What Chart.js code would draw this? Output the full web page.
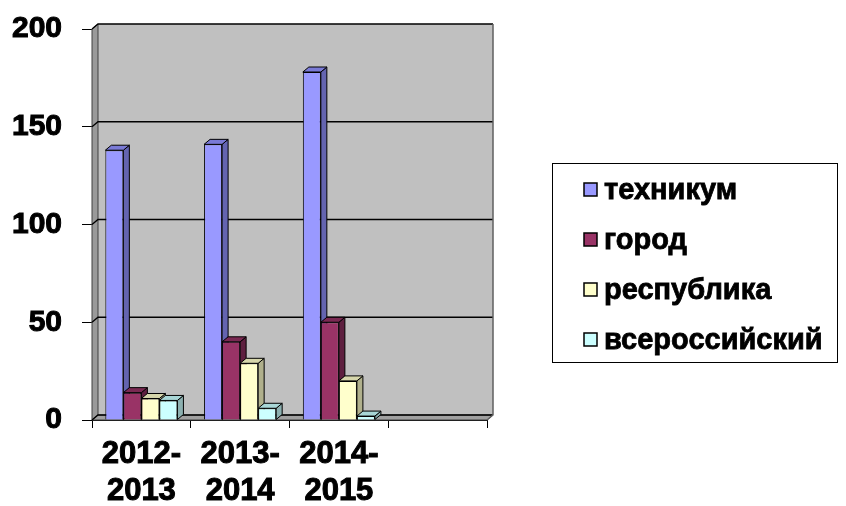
<!DOCTYPE html>
<html>
<head>
<meta charset="utf-8">
<script src="https://cdn.jsdelivr.net/npm/chart.js@4/dist/chart.umd.min.js"></script>
<style>
  html, body { margin: 0; padding: 0; background: #ffffff; }
  #wrap { position: relative; width: 846px; height: 506px; }
</style>
</head>
<body>
<div id="wrap"><canvas id="c" width="846" height="506"></canvas></div>
<script>
// ---- data ----
const categories = [['2012-', '2013'], ['2013-', '2014'], ['2014-', '2015'], ''];
const seriesNames = ['техникум', 'город', 'республика', 'всероссийский'];
const tehnikum = [138, 141, 178, null];
const gorod = [14, 40, 50, null];
const respublika = [11, 29, 20, null];
const vserossiyskiy = [10, 6, 2, null];
const yTickValues = [0, 50, 100, 150, 200];

// ---- styles ----
const FONT = '"Liberation Sans", Arial, sans-serif';
const frontColors = ['#9999FF', '#993366', '#FFFFCC', '#CCFFFF'];
const topColors = ['#7A7AD6', '#7A2952', '#D6D6AB', '#A8D6D6'];
const sideColors = ['#6464B0', '#5E1F3F', '#B0B08C', '#8CB0B0'];
const DX = 6, DY = 5;

function poly(ctx, pts, fill, stroke, lw) {
  ctx.beginPath();
  ctx.moveTo(pts[0][0], pts[0][1]);
  for (let i = 1; i < pts.length; i++) ctx.lineTo(pts[i][0], pts[i][1]);
  ctx.closePath();
  if (fill) { ctx.fillStyle = fill; ctx.fill(); }
  if (stroke) { ctx.strokeStyle = stroke; ctx.lineWidth = lw || 1; ctx.stroke(); }
}

const threeD = {
  id: 'threeD',
  beforeDatasetsDraw(chart) {
    const ctx = chart.ctx, a = chart.chartArea, ys = chart.scales.y;
    const L = a.left, R = a.right, T = a.top, B = a.bottom;
    ctx.save();
    // back wall
    poly(ctx, [[L + DX, T - DY], [R + DX, T - DY], [R + DX, B - DY], [L + DX, B - DY]], '#C0C0C0', null);
    // left side wall
    poly(ctx, [[L, T], [L + DX, T - DY], [L + DX, B - DY], [L, B]], '#9A9A9A', '#404040', 1);
    // floor
    poly(ctx, [[L, B], [R, B], [R + DX, B - DY], [L + DX, B - DY]], '#A0A0A0', '#404040', 1);
    // grid lines on walls
    ctx.strokeStyle = '#000000';
    ctx.lineWidth = 1.3;
    yTickValues.forEach(v => {
      const y = ys.getPixelForValue(v);
      ctx.beginPath();
      ctx.moveTo(L, y);
      ctx.lineTo(L + DX, y - DY);
      ctx.lineTo(R + DX, y - DY);
      ctx.stroke();
    });
    // back wall right edge
    ctx.strokeStyle = '#606060';
    ctx.lineWidth = 1.5;
    ctx.beginPath();
    ctx.moveTo(R + DX, T - DY);
    ctx.lineTo(R + DX, B - DY);
    ctx.lineTo(R, B);
    ctx.stroke();
    // bar top and side faces
    chart.data.datasets.forEach((ds, i) => {
      const meta = chart.getDatasetMeta(i);
      meta.data.forEach((bar, j) => {
        if (ds.data[j] === null || ds.data[j] === undefined) return;
        const p = bar.getProps(['x', 'y', 'base', 'width'], true);
        const x0 = p.x - p.width / 2, x1 = p.x + p.width / 2;
        poly(ctx, [[x1, p.y], [x1 + DX, p.y - DY], [x1 + DX, p.base - DY], [x1, p.base]], sideColors[i], '#000', 1);
        poly(ctx, [[x0, p.y], [x0 + DX, p.y - DY], [x1 + DX, p.y - DY], [x1, p.y]], topColors[i], '#000', 1);
      });
    });
    ctx.restore();
  }
};

const boxLegend = {
  id: 'boxLegend',
  afterDraw(chart) {
    const ctx = chart.ctx;
    ctx.save();
    ctx.fillStyle = '#ffffff';
    ctx.fillRect(552.5, 163.5, 285, 199);
    ctx.strokeStyle = '#000000';
    ctx.lineWidth = 1;
    ctx.strokeRect(552.5, 163.5, 285, 199);
    ctx.font = 'bold 29px ' + FONT;
    ctx.textBaseline = 'middle';
    ctx.textAlign = 'left';
    chart.data.datasets.forEach((ds, i) => {
      const cy = 189.5 + i * 50;
      ctx.fillStyle = ds.backgroundColor;
      ctx.fillRect(584, cy - 6.5, 13, 13);
      ctx.strokeStyle = '#000';
      ctx.lineWidth = 1.5;
      ctx.strokeRect(584, cy - 6.5, 13, 13);
      ctx.fillStyle = '#000';
      ctx.lineWidth = 0.8;
      ctx.fillText(ds.label, 604, cy + 1);
      ctx.strokeText(ds.label, 604, cy + 1);
    });
    ctx.restore();
  }
};

const seriesData = [tehnikum, gorod, respublika, vserossiyskiy];

new Chart(document.getElementById('c'), {
  type: 'bar',
  data: {
    labels: categories,
    datasets: seriesNames.map((name, i) => ({
      label: name,
      data: seriesData[i],
      backgroundColor: frontColors[i],
      borderColor: '#000000',
      borderWidth: 1,
      categoryPercentage: 0.73,
      barPercentage: 1.0
    }))
  },
  options: {
    responsive: false,
    animation: false,
    devicePixelRatio: 1,
    layout: { padding: { top: 29, right: 359, left: 0, bottom: 0 } },
    plugins: {
      legend: { display: false },
      tooltip: { enabled: false }
    },
    scales: {
      x: {
        afterFit(scale) { scale.height = 86; scale.paddingLeft = 0; scale.paddingRight = 0; },
        grid: { display: true, drawOnChartArea: false, drawTicks: true, tickLength: 8, color: '#000000', lineWidth: 1, offset: true },
        border: { display: true, color: '#000000', width: 1 },
        ticks: { color: '#000000', font: { family: FONT, size: 31, weight: 'bold' }, maxRotation: 0, autoSkip: false, padding: 8, textStrokeColor: '#000000', textStrokeWidth: 1 }
      },
      y: {
        min: 0, max: 200,
        afterFit(scale) { scale.width = 92; scale.paddingTop = 0; scale.paddingBottom = 0; },
        afterBuildTicks(scale) { scale.ticks = yTickValues.map(v => ({ value: v })); },
        grid: { display: true, drawOnChartArea: false, drawTicks: true, tickLength: 10, color: '#000000', lineWidth: 1 },
        border: { display: true, color: '#000000', width: 1 },
        ticks: { color: '#000000', font: { family: FONT, size: 30, weight: 'bold' }, padding: 20, textStrokeColor: '#000000', textStrokeWidth: 1 }
      }
    }
  },
  plugins: [threeD, boxLegend]
});
</script>
</body>
</html>
